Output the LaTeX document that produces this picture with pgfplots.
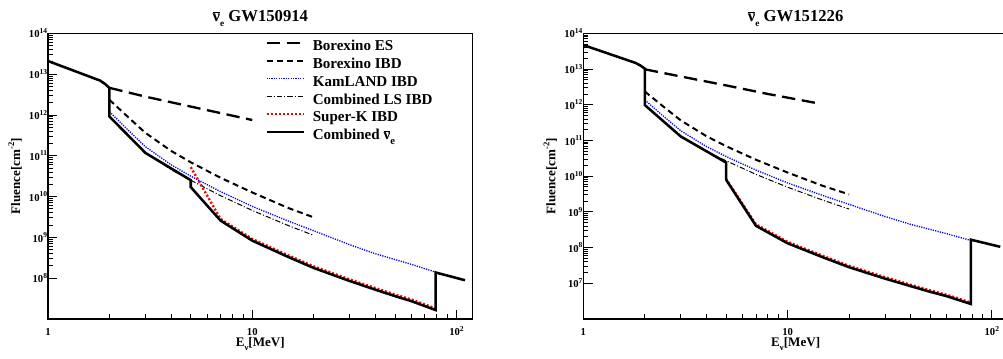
\documentclass[border=0pt]{standalone}
\usepackage{fontspec}
\setmainfont{Liberation Serif}
\usepackage{pgfplots}
\pgfplotsset{compat=1.18}
\newcommand{\pw}[1]{10\raisebox{0.42em}{\fontsize{5.6}{6}\selectfont\bfseries #1}}
\newcommand{\nuebar}[1]{$\overline{\hbox{ν}}$\raisebox{-0.3em}{\fontsize{#1}{#1}\selectfont\bfseries e}}
\definecolor{rblue}{RGB}{0,0,255}
\definecolor{rred}{RGB}{255,0,0}
\tikzset{
 esstyle/.style={black, line width=1.75pt, dash pattern=on 10pt off 5pt},
 ibdstyle/.style={black, line width=1.5pt, dash pattern=on 4.5pt off 3pt},
 kamstyle/.style={rblue, line width=1pt, dash pattern=on 0.9pt off 0.9pt},
 lsstyle/.style={black, line width=0.75pt, dash pattern=on 4pt off 1.5pt on 0.8pt off 1.5pt},
 skstyle/.style={rred, line width=1.8pt, dash pattern=on 1.5pt off 1.5pt},
 combstyle/.style={black, line width=1.9pt},
}
\pgfplotsset{
 every axis/.append style={
  xmode=log, ymode=log, scale only axis, width=318.5pt, height=214.3pt,
  xmin=1, xmax=120,
  xtick={1,10,100}, xticklabels={1,10,\pw{2}},
  xtick pos=bottom, ytick pos=left, tick align=inside,
  major tick length=7pt, minor tick length=3.5pt,
  axis line style={line width=0.8pt},
  tick style={black, line width=0.6pt},
  tick label style={font=\fontsize{8}{9}\selectfont\bfseries},
  xticklabel style={anchor=base, yshift=-12.5pt},
  yticklabel style={inner sep=0.5pt},
  title style={at={(axis description cs:0.5,1)}, anchor=base, yshift=2.5pt, font=\fontsize{12.5}{14}\selectfont\bfseries},
  xlabel style={at={(axis description cs:0.5,0)}, anchor=base, yshift=-20.8pt, font=\fontsize{9.8}{11}\selectfont\bfseries},
  ylabel style={at={(axis description cs:-0.0659,0.5)}, anchor=base, font=\fontsize{9.8}{11}\selectfont\bfseries},
  xlabel={E\raisebox{-0.25em}{\fontsize{6.5}{7}\selectfont ν}[MeV]},
  ylabel={Fluence[cm\raisebox{0.45em}{\fontsize{6.5}{7}\selectfont -2}]},
 },
}
\begin{document}
\begin{tikzpicture}
\path[use as bounding box] (0,0) rectangle (752.25pt,268.5pt);
\begin{axis}[at={(36pt,29.25pt)}, anchor=south west,
  ymin=1e7, ymax=1e14,
  ytick={1e8,1e9,1e10,1e11,1e12,1e13,1e14},
  yticklabels={\pw{8},\pw{9},\pw{10},\pw{11},\pw{12},\pw{13},\pw{14}},
  title={\nuebar{7} GW150914},
  legend style={at={(axis description cs:0.511,0.978)}, anchor=north west, draw=none, fill=none, inner sep=0pt, row sep=2.9pt, column sep=6pt, font=\fontsize{11.3}{13}\selectfont\bfseries, nodes={inner sep=0pt, text height=8pt, text depth=2.5pt, anchor=west}},
  legend cell align=left,
  legend image code/.code={\draw[#1] (0pt,3pt) -- (27.75pt,3pt);},
]
\addplot[esstyle] coordinates {(2,4.6e12) (3,2.8e12) (5,1.6e12) (10,7.5e11)};
\addlegendentry{Borexino ES}
\addplot[ibdstyle] coordinates {(2,2.34e12) (2.5,8.3e11) (3,3.63e11) (4,1.32e11) (5,6.9e10) (7,2.88e10) (10,1.26e10) (15,5.25e9) (20,3.09e9)};
\addlegendentry{Borexino IBD}
\addplot[kamstyle] coordinates {(2,1.2e12) (2.5,3.98e11) (3,1.66e11) (4,6.03e10) (5,3.16e10) (7,1.32e10) (10,5.75e9) (15,2.51e9) (20,1.45e9) (30,6.6e8) (40,3.98e8) (60,2.19e8) (79,1.41e8)};
\addlegendentry{KamLAND IBD}
\addplot[lsstyle] coordinates {(2,9.1e11) (2.5,2.95e11) (3,1.2e11) (4,4.57e10) (5,2.51e10) (7,1.05e10) (10,4.57e9) (15,1.95e9) (20,1.12e9)};
\addlegendentry{Combined LS IBD}
\addplot[skstyle] coordinates {(5,5.25e10) (7,2.82e9) (10,9.12e8) (15,3.63e8) (20,1.95e8) (30,9.33e7) (40,5.75e7) (50,3.98e7) (60,3.02e7) (79,1.82e7)};
\addlegendentry{Super-K IBD}
\addplot[combstyle] coordinates {(1,2.09e13) (1.8,6.92e12) (1.9,5.75e12) (2,4.57e12) (2,9.1e11) (3,1.17e11) (5,2.51e10) (5,1.7e10) (7,2.57e9) (10,8.32e8) (15,3.31e8) (20,1.78e8) (30,8.51e7) (40,5.25e7) (50,3.63e7) (60,2.75e7) (79,1.66e7) (79,1.38e8) (110,8.91e7)};
\addlegendentry{Combined \nuebar{8}}
\end{axis}
\begin{axis}[at={(437.5pt,29.25pt)}, anchor=south west,
  ymin=1e6, ymax=1e14,
  ytick={1e7,1e8,1e9,1e10,1e11,1e12,1e13,1e14},
  yticklabels={\pw{7},\pw{8},\pw{9},\pw{10},\pw{11},\pw{12},\pw{13},\pw{14}},
  title={\nuebar{7} GW151226},
]
\addplot[esstyle] coordinates {(2,9.8e12) (3,6.17e12) (5,3.47e12) (8,2.0e12) (14,1.1e12)};
\addplot[ibdstyle] coordinates {(2,2.34e12) (2.5,8.3e11) (3,3.63e11) (4,1.32e11) (5,6.9e10) (7,2.88e10) (10,1.26e10) (15,5.25e9) (20,3.09e9)};
\addplot[kamstyle] coordinates {(2,1.35e12) (2.5,4.47e11) (3,1.86e11) (4,6.76e10) (5,3.55e10) (7,1.48e10) (10,6.46e9) (15,2.82e9) (20,1.62e9) (30,7.41e8) (40,4.47e8) (60,2.45e8) (79,1.58e8)};
\addplot[lsstyle] coordinates {(2,9.77e11) (2.5,3.16e11) (3,1.29e11) (4,4.9e10) (5,2.69e10) (7,1.12e10) (10,4.9e9) (15,2.09e9) (20,1.2e9)};
\addplot[skstyle] coordinates {(5,8.32e9) (7,4.47e8) (10,1.45e8) (15,5.75e7) (20,3.09e7) (30,1.48e7) (40,9.12e6) (50,6.31e6) (60,4.79e6) (79,2.88e6)};
\addplot[combstyle] coordinates {(1,4.68e13) (1.8,1.48e13) (1.9,1.26e13) (2,1.02e13) (2,9.77e11) (3,1.29e11) (5,2.4e10) (5,7.94e9) (7,4.07e8) (10,1.32e8) (15,5.25e7) (20,2.82e7) (30,1.35e7) (40,8.32e6) (50,5.75e6) (60,4.37e6) (79,2.63e6) (79,1.66e8) (110,1.05e8)};
\end{axis}
\end{tikzpicture}
\end{document}
